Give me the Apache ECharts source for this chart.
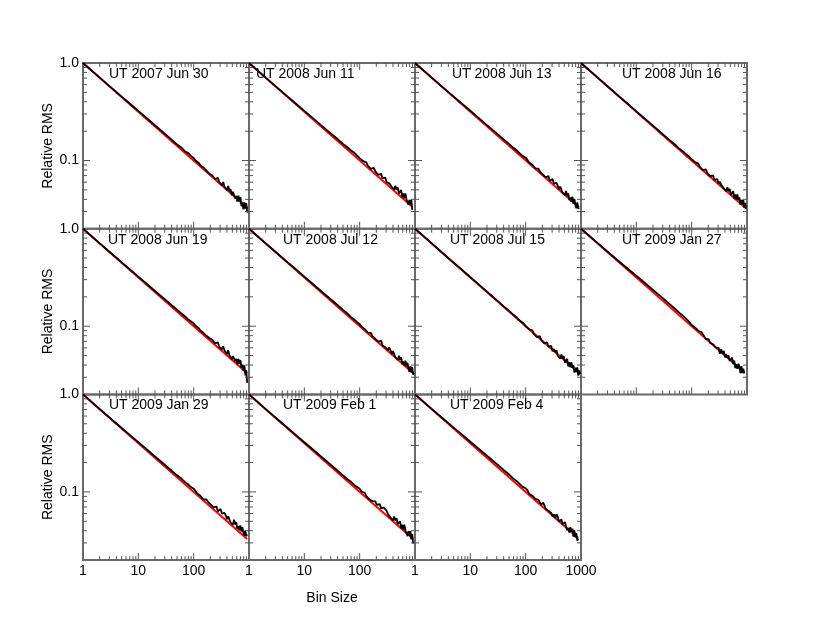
<!DOCTYPE html>
<html lang="en">
<head>
    <meta charset="UTF-8">
    <title>Relative RMS vs Bin Size</title>
    <script src="https://cdn.jsdelivr.net/npm/echarts@6/dist/echarts.min.js"></script>
    <style>
        html, body { margin: 0; padding: 0; background: #fff; }
        #main { width: 830px; height: 623px; }
    </style>
</head>
<body>
    <div id="main"></div>
    <script>
        // panel labels
        var DATES = ['UT 2007 Jun 30', 'UT 2008 Jun 11', 'UT 2008 Jun 13', 'UT 2008 Jun 16',
                     'UT 2008 Jun 19', 'UT 2008 Jul 12', 'UT 2008 Jul 15', 'UT 2009 Jan 27',
                     'UT 2009 Jan 29', 'UT 2009 Feb 1', 'UT 2009 Feb 4'];

        // bin sizes shared by all panels
        var BINS = [1, 2, 3, 5, 7, 10, 15, 20, 30, 40, 50, 60, 70, 80, 90,
                    100, 108, 116, 124, 132, 140, 150, 160, 170,
                    180, 192, 204, 216, 230, 244, 258, 274, 290,
                    306, 324, 342, 360, 380, 400, 420, 442, 464, 488, 512,
                    536, 562, 588, 614, 642, 670, 700,
                    730, 760, 792, 824, 858, 892, 926, 960];

        // measured relative RMS per night (null = no data at that bin)
        var RMS_07JUN30 = [1, .707, .580, .452, .384, .323, .265, .230, .189, .164, .146, .136, .124, .119, .111,
            .106, .1000, .0993, .0943, .0896, .0904, .0849, .0854, .0790,
            .0790, .0736, .0763, .0707, .0712, .0646, .0667, .0664, .0599,
            .0606, .0556, .0601, .0543, .0559, .0495, .0547, .0486, .0510, .0439, .0477,
            .0480, .0409, .0433, .0380, .0435, .0382, .0423,
            .0340, .0370, .0316, .0372, .0321, .0365, .0296, .0300];
        var RMS_08JUN11 = [1, .707, .580, .452, .384, .323, .266, .231, .190, .166, .148, .137, .127, .120, .112,
            .106, .1049, .0984, .0970, .0957, .0887, .0889, .0823, .0828,
            .0842, .0773, .0777, .0714, .0725, .0730, .0660, .0652, .0669,
            .0601, .0628, .0584, .0611, .0539, .0560, .0503, .0552, .0501, .0530, .0460,
            .0471, .0498, .0420, .0461, .0411, .0459, .0404,
            .0418, .0352, .0394, .0355, .0396, .0312, null, null];
        var RMS_08JUN13 = [1, .707, .580, .452, .386, .324, .266, .231, .190, .165, .148, .135, .126, .117, .111,
            .107, .1010, .0956, .0970, .0905, .0896, .0832, .0846, .0828,
            .0775, .0794, .0721, .0734, .0672, .0698, .0692, .0616, .0634,
            .0646, .0578, .0552, .0590, .0554, .0505, .0542, .0543, .0469, .0489, .0442,
            .0488, .0435, .0461, .0392, .0419, .0378, .0427,
            .0359, .0403, .0351, .0324, .0372, .0322, .0329, null];
        var RMS_08JUN16 = [1, .707, .577, .449, .382, .319, .262, .228, .186, .162, .146, .132, .124, .115, .110,
            .103, .1020, .0956, .0943, .0931, .0862, .0865, .0799, .0805,
            .0812, .0744, .0749, .0687, .0699, .0704, .0635, .0628, .0646,
            .0578, .0606, .0563, .0590, .0518, .0540, .0483, .0533, .0483, .0512, .0442,
            .0458, .0485, .0408, .0448, .0399, .0448, .0393,
            .0418, .0352, .0394, .0355, .0396, .0328, .0368, .0320];
        var RMS_08JUN19 = [1, .707, .580, .452, .384, .323, .265, .230, .189, .164, .148, .135, .126, .117, .112,
            .107, .1010, .1002, .0952, .0905, .0913, .0857, .0862, .0798,
            .0812, .0758, .0784, .0728, .0731, .0666, .0685, .0683, .0616,
            .0629, .0578, .0622, .0564, .0580, .0515, .0566, .0505, .0529, .0458, .0495,
            .0510, .0439, .0461, .0408, .0462, .0409, .0450,
            .0374, .0403, .0348, .0397, .0314, .0355, .0263, null];
        var RMS_08JUL12 = [1, .707, .580, .452, .384, .323, .265, .230, .189, .164, .147, .135, .124, .117, .110,
            .105, .0991, .1002, .0934, .0922, .0862, .0873, .0854, .0790,
            .0820, .0744, .0756, .0694, .0718, .0710, .0635, .0652, .0610,
            .0595, .0567, .0606, .0569, .0518, .0555, .0556, .0481, .0501, .0453, .0499,
            .0454, .0481, .0408, .0436, .0395, .0444, .0389,
            .0422, .0370, .0341, .0390, .0338, .0382, .0319, .0333];
        var RMS_08JUL15 = [1, .707, .577, .447, .380, .318, .261, .226, .185, .160, .144, .131, .122, .113, .108,
            .100, .0991, .0928, .0916, .0905, .0837, .0840, .0775, .0782,
            .0790, .0722, .0728, .0666, .0679, .0685, .0617, .0610, .0628,
            .0555, .0584, .0541, .0569, .0498, .0520, .0464, .0514, .0464, .0494, .0424,
            .0436, .0464, .0387, .0428, .0379, .0428, .0374,
            .0400, .0334, .0376, .0338, .0379, .0312, .0352, .0323];
        var RMS_09JAN27 = [1, .711, .583, .456, .389, .329, .271, .236, .194, .168, .151, .137, .128, .119, .111,
            .103, .1039, .0965, .0961, .0896, .0887, .0873, .0823, .0813,
            .0745, .0780, .0735, .0673, .0699, .0653, .0667, .0604, .0610,
            .0601, .0523, .0579, .0522, .0559, .0480, .0517, .0476, .0501, .0439, .0455,
            .0475, .0409, .0445, .0372, .0407, .0367, .0412,
            .0385, .0330, .0391, .0331, .0368, .0328, null, null];
        var RMS_09JAN29 = [1, .707, .580, .452, .384, .323, .266, .231, .190, .165, .148, .137, .126, .119, .112,
            .108, .1020, .0965, .0979, .0914, .0904, .0840, .0854, .0836,
            .0797, .0816, .0742, .0755, .0692, .0717, .0710, .0634, .0652,
            .0669, .0600, .0573, .0611, .0575, .0525, .0561, .0562, .0487, .0507, .0460,
            .0518, .0464, .0490, .0420, .0446, .0405, .0454,
            .0392, .0436, .0383, .0355, .0402, .0352, .0368, null];
        var RMS_09FEB01 = [1, .707, .580, .452, .384, .323, .266, .231, .190, .165, .148, .135, .127, .118, .112,
            .108, .1010, .0993, .0979, .0905, .0913, .0840, .0846, .0805,
            .0797, .0801, .0735, .0748, .0751, .0678, .0673, .0689, .0663,
            .0641, .0595, .0622, .0548, .0569, .0510, .0561, .0509, .0538, .0467, .0460,
            .0501, .0422, .0461, .0412, .0462, .0405, .0404,
            .0352, .0396, .0355, .0397, .0327, .0369, .0296, null];
        var RMS_09FEB04 = [1, .711, .583, .456, .389, .327, .270, .235, .194, .168, .151, .137, .128, .119, .112,
            .109, .1039, .0956, .0961, .0914, .0921, .0849, .0838, .0828,
            .0805, .0736, .0777, .0741, .0672, .0691, .0642, .0664, .0610,
            .0561, .0589, .0536, .0590, .0559, .0495, .0517, .0524, .0464, .0462, .0491,
            .0480, .0405, .0428, .0384, .0435, .0390, .0420,
            .0348, .0403, .0341, .0379, .0317, .0332, null, null];

        // white-noise expectation (red line), from (1, 1.0) to the last bin of each night
        var FIT_END_BIN = [960, 892, 926, 960, 926, 960, 960, 892, 926, 926, 892];
        var FIT_END_RMS = [0.0323, 0.0335, 0.0329, 0.0323, 0.0329, 0.0323, 0.0323, 0.0335, 0.0329, 0.0329, 0.0335];

        // tick values
        var X_MAJOR_TICKS = [10, 100];
        var X_MINOR_TICKS = [2, 3, 4, 5, 6, 7, 8, 9, 20, 30, 40, 50, 60, 70, 80, 90, 200, 300, 400, 500, 600, 700, 800, 900];
        var Y_MAJOR_TICKS = [0.1];
        var Y_MINOR_TICKS = [0.03, 0.04, 0.05, 0.06, 0.07, 0.08, 0.09, 0.2, 0.3, 0.4, 0.5, 0.6, 0.7, 0.8, 0.9];

        var X_MIN = 1, X_MAX = 1000, Y_MIN = 0.02, Y_MAX = 1;

        var RMS = [RMS_07JUN30, RMS_08JUN11, RMS_08JUN13, RMS_08JUN16, RMS_08JUN19, RMS_08JUL12,
                   RMS_08JUL15, RMS_09JAN27, RMS_09JAN29, RMS_09FEB01, RMS_09FEB04];

        // layout
        var LEFT0 = 83, TOP0 = 63, CELL_W = 166, CELL_H = 165.7;
        var TITLE_LEFT = [109, 256, 452, 622, 108, 283, 450, 622, 109, 283, 450];
        var FONT = 'Liberation Sans, Arial, Helvetica, sans-serif';
        var FRAME = '#6a6a6a';

        var tickData = [];
        X_MAJOR_TICKS.forEach(function (v) { tickData.push([v, Y_MIN, 0, 1]); });
        X_MINOR_TICKS.forEach(function (v) { tickData.push([v, Y_MIN, 0, 0]); });
        Y_MAJOR_TICKS.forEach(function (v) { tickData.push([X_MIN, v, 1, 1]); });
        Y_MINOR_TICKS.forEach(function (v) { tickData.push([X_MIN, v, 1, 0]); });

        // inward ticks on all four sides of a panel
        function renderTick(params, api) {
            var len = api.value(3) ? 7 : 4;
            var style = { stroke: '#555', lineWidth: 1 };
            var a, b;
            if (api.value(2) === 0) {
                a = api.coord([api.value(0), Y_MIN]);
                b = api.coord([api.value(0), Y_MAX]);
                return { type: 'group', children: [
                    { type: 'line', shape: { x1: a[0], y1: a[1], x2: a[0], y2: a[1] - len }, style: style },
                    { type: 'line', shape: { x1: b[0], y1: b[1], x2: b[0], y2: b[1] + len }, style: style }
                ] };
            }
            a = api.coord([X_MIN, api.value(1)]);
            b = api.coord([X_MAX, api.value(1)]);
            return { type: 'group', children: [
                { type: 'line', shape: { x1: a[0], y1: a[1], x2: a[0] + len, y2: a[1] }, style: style },
                { type: 'line', shape: { x1: b[0], y1: b[1], x2: b[0] - len, y2: b[1] }, style: style }
            ] };
        }

        function decade(v) {
            var e = Math.log(v) / Math.LN10;
            if (Math.abs(e - Math.round(e)) > 1e-6) return null;
            return Math.round(e);
        }

        var grids = [], xAxes = [], yAxes = [], series = [], titles = [];

        RMS.forEach(function (rms, i) {
            var row = Math.floor(i / 4), col = i % 4;
            var top = TOP0 + row * CELL_H;
            grids.push({
                left: LEFT0 + col * CELL_W, top: top, width: CELL_W, height: CELL_H,
                show: true, borderColor: FRAME, borderWidth: 2, backgroundColor: 'transparent'
            });
            xAxes.push({
                gridIndex: i, type: 'log', logBase: 10, min: X_MIN, max: X_MAX,
                axisLine: { show: false }, axisTick: { show: false }, splitLine: { show: false },
                axisLabel: {
                    show: row === 2, margin: 4, color: '#000', fontSize: 14, fontFamily: FONT,
                    formatter: function (v) {
                        var e = decade(v);
                        if (e === null) return '';
                        if (e === 3 && col !== 2) return '';
                        return String(Math.pow(10, e));
                    }
                },
                name: i === 9 ? 'Bin Size' : '', nameLocation: 'middle', nameGap: 31,
                nameTextStyle: { color: '#000', fontSize: 14, fontFamily: FONT }
            });
            yAxes.push({
                gridIndex: i, type: 'log', logBase: 10, min: Y_MIN, max: Y_MAX,
                axisLine: { show: false }, axisTick: { show: false }, splitLine: { show: false },
                axisLabel: {
                    show: col === 0, margin: 4, color: '#000', fontSize: 14, fontFamily: FONT,
                    formatter: function (v) {
                        var e = decade(v);
                        if (e === 0) return '1.0';
                        if (e === -1) return '0.1';
                        return '';
                    }
                },
                name: col === 0 ? 'Relative RMS' : '', nameLocation: 'middle', nameGap: 28,
                nameTextStyle: { color: '#000', fontSize: 14, fontFamily: FONT }
            });
            series.push({
                type: 'line', xAxisIndex: i, yAxisIndex: i, z: 2,
                data: [[1, 1], [FIT_END_BIN[i], FIT_END_RMS[i]]],
                showSymbol: false, silent: true,
                lineStyle: { color: '#ff0000', width: 2 }
            });
            var pts = [];
            BINS.forEach(function (b, k) { if (rms[k] !== null) pts.push([b, rms[k]]); });
            series.push({
                type: 'line', xAxisIndex: i, yAxisIndex: i, z: 3,
                data: pts, showSymbol: false, silent: true,
                lineStyle: { color: '#000', width: 1.8 }
            });
            series.push({
                type: 'custom', xAxisIndex: i, yAxisIndex: i, z: 4, clip: false, silent: true,
                renderItem: renderTick, data: tickData
            });
            titles.push({
                text: DATES[i], left: TITLE_LEFT[i], top: top + 4, padding: 0,
                textStyle: { color: '#000', fontSize: 14, fontWeight: 'normal', fontFamily: FONT }
            });
        });

        var myChart = echarts.init(document.getElementById('main'));
        myChart.setOption({
            animation: false,
            title: titles,
            grid: grids,
            xAxis: xAxes,
            yAxis: yAxes,
            series: series
        });
    </script>
</body>
</html>
